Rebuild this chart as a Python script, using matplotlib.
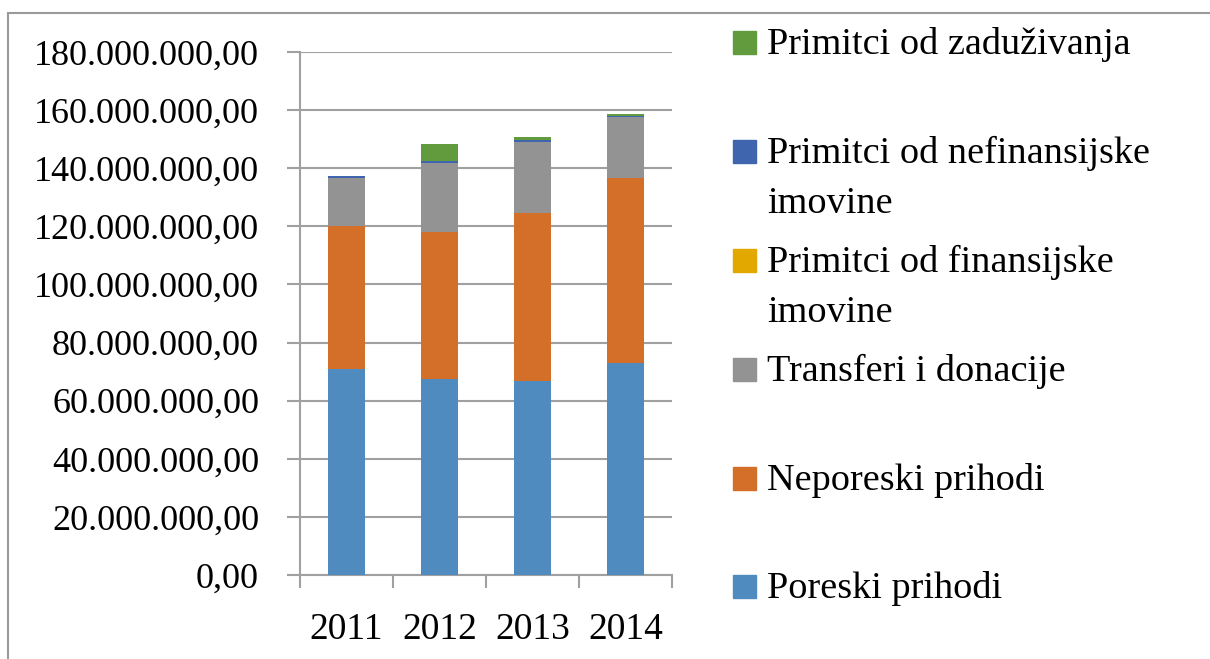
import numpy as np
import matplotlib.pyplot as plt
from matplotlib.patches import Rectangle
from matplotlib.ticker import FuncFormatter, FixedLocator

plt.rcParams['font.family'] = ['Liberation Serif', 'DejaVu Serif']

years = ['2011', '2012', '2013', '2014']
poreski = [70.9e6, 67.4e6, 66.8e6, 73.0e6]
neporeski = [49.2e6, 50.6e6, 57.9e6, 63.5e6]
transferi = [16.6e6, 23.9e6, 24.3e6, 21.0e6]
fin_imovina = [0.0, 0.0, 0.0, 0.0]
nefin_imovina = [0.6e6, 0.5e6, 0.8e6, 0.5e6]
zaduzivanje = [0.0, 6.0e6, 0.8e6, 0.5e6]

series = [
    ('Poreski prihodi', poreski, '#4f8bbf'),
    ('Neporeski prihodi', neporeski, '#d46f2a'),
    ('Transferi i donacije', transferi, '#939393'),
    ('Primitci od finansijske\nimovine', fin_imovina, '#e2a800'),
    ('Primitci od nefinansijske\nimovine', nefin_imovina, '#3e65ae'),
    ('Primitci od zaduživanja', zaduzivanje, '#629b3e'),
]

fig = plt.figure(figsize=(12.1, 6.59), dpi=100)
ax = fig.add_axes([300/1210, 1 - 575/659, 372/1210, 523/659])

x = np.arange(len(years))
bottom = np.zeros(len(years))
for name, vals, col in series:
    ax.bar(x, vals, 0.4, bottom=bottom, color=col, linewidth=0, zorder=3)
    bottom += np.array(vals)

ax.set_ylim(0, 180e6)
ax.set_xlim(-0.5, 3.5)
ax.set_yticks(np.arange(0, 180e6 + 1, 20e6))
ax.yaxis.set_major_formatter(FuncFormatter(lambda v, p: f"{v:,.2f}".replace(',', ' ').replace('.', ',').replace(' ', '.')))
ax.grid(axis='y', color='#a0a0a0', linewidth=1.5, zorder=0)
ax.set_xticks(x)
ax.set_xticklabels(years)
ax.xaxis.set_minor_locator(FixedLocator(np.arange(-0.5, 4, 1)))
ax.tick_params(axis='x', which='major', length=0, pad=27, labelsize=27)
ax.tick_params(axis='x', which='minor', length=9.5, width=1.5, color='#a0a0a0')
ax.tick_params(axis='y', length=9.5, width=1.5, color='#a0a0a0', pad=20, labelsize=26)
for s in ['top', 'right']:
    ax.spines[s].set_visible(False)
for s in ['left', 'bottom']:
    ax.spines[s].set_color('#a0a0a0')
    ax.spines[s].set_linewidth(1.5)

# legend drawn by hand, top entry first
rows = [54, 163, 272, 381, 490, 598]
for (name, vals, col), yb in zip(series[::-1], rows):
    fig.patches.append(Rectangle((733/1210, 1 - (yb)/659), 23/1210, 23/659,
                                 transform=fig.transFigure, color=col))
    for i, line in enumerate(name.split('\n')):
        fig.text(767/1210, 1 - (yb + 50*i)/659, line, fontsize=27.5, va='baseline', ha='left')

# outer frame
fig.patches.append(Rectangle((8/1210, -0.1), 1.2, 1.1 - 13/659, transform=fig.transFigure,
                             fill=False, edgecolor='#9a9a9a', linewidth=1.5))

fig.savefig('out.png', dpi=100)
